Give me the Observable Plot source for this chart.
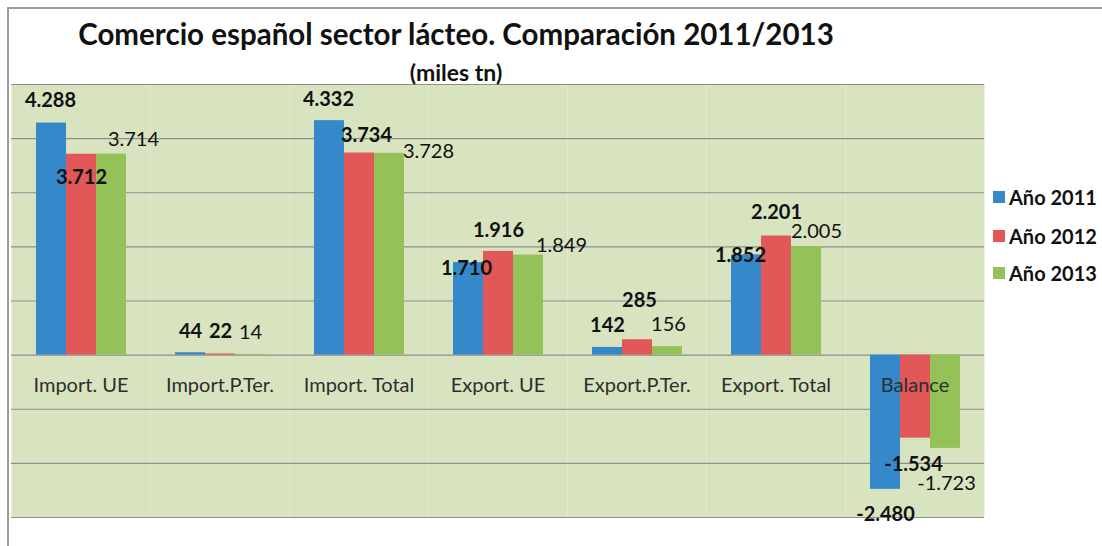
<!DOCTYPE html>
<html>
<head>
<meta charset="utf-8">
<script src="https://cdn.jsdelivr.net/npm/d3@7"></script>
<script src="https://cdn.jsdelivr.net/npm/@observablehq/plot@0.6"></script>
<style>
  html, body { margin: 0; padding: 0; background: #fff; }
  #wrap { position: relative; width: 1102px; height: 546px; overflow: hidden; font-family: Lato, "Open Sans", sans-serif; }
  #border { position: absolute; left: 7px; top: 7px; right: -4px; bottom: -4px; border-top: 2px solid #9c9c9c; border-left: 2px solid #9c9c9c; }
  #chart { position: absolute; left: 0; top: 0; }
  .title { position: absolute; left: 0; width: 912px; text-align: center; font-weight: bold; color: #111; white-space: nowrap; }
  #legend { position: absolute; left: 993px; top: 0; }
  .lg { position: absolute; left: 0; white-space: nowrap; font-weight: bold; font-size: 20px; color: #111; display: flex; align-items: center; }
  .sw { width: 12px; height: 12px; margin-right: 4px; }
</style>
</head>
<body>
<div id="wrap">
  <div id="chart"></div>
  <div id="border"></div>
  <div class="title" style="top:16px;font-size:29.5px;">Comercio español sector lácteo. Comparación 2011/2013</div>
  <div class="title" style="top:58px;font-size:23px;">(miles tn)</div>
  <div id="legend"></div>
</div>
<script>
// ---- data ----
const categories = ["Import. UE", "Import.P.Ter.", "Import. Total", "Export. UE", "Export.P.Ter.", "Export. Total", "Balance"];
const years = ["Año 2011", "Año 2012", "Año 2013"];
const values2011 = [4288, 44, 4332, 1710, 142, 1852, -2480];
const values2012 = [3712, 22, 3734, 1916, 285, 2201, -1534];
const values2013 = [3714, 14, 3728, 1849, 156, 2005, -1723];
const yTicks = [-3000, -2000, -1000, 0, 1000, 2000, 3000, 4000, 5000];

// ---- layout (label nudges [dx, dy] per series, per category) ----
const nudge2011 = [[-1, -22], [0, -21], [-1, -21], [-2, 6], [0, -22], [-6, 1], [0, 25]];
const nudge2012 = [[0, 23], [0, -22], [7, -17], [0, -21], [2, -39], [0, -23], [-2, 26]];
const nudge2013 = [[22, -15], [0, -22], [39, -2], [33, -9], [1, -22], [10, -15], [1, 35]];
const colors = ["#3588ca", "#e25757", "#94c158"];

const esLocale = d3.formatLocale({decimal: ",", thousands: ".", grouping: [3], currency: ["", " €"], minus: "-"});
const fmt = esLocale.format(",d");

const series = [values2011, values2012, values2013];
const nudges = [nudge2011, nudge2012, nudge2013];
const rows = [];
categories.forEach((c, i) => {
  years.forEach((y, j) => {
    rows.push({category: c, year: y, value: series[j][i], label: fmt(series[j][i]), nudge: nudges[j][i], bold: j < 2});
  });
});

const labelMarks = rows.map(r => Plot.text([r], {
  fx: "category", x: "year", y: "value", text: "label",
  dx: r.nudge[0], dy: r.nudge[1],
  fontSize: 20, fontWeight: r.bold ? "bold" : "normal", fill: "#111"
}));

const plot = Plot.plot({
  width: 1102,
  height: 546,
  marginTop: 84,
  marginBottom: 29,
  marginLeft: 10,
  marginRight: 118,
  style: {fontFamily: "Lato, 'Open Sans', sans-serif", background: "transparent"},
  fx: {domain: categories, padding: 0, axis: null},
  x: {domain: years, paddingInner: 0, paddingOuter: 0.77, axis: null},
  y: {domain: [-3000, 5000], axis: null},
  color: {domain: years, range: colors},
  marks: [
    Plot.frame({fill: "#d8e4bf", stroke: null}),
    Plot.ruleY(yTicks, {stroke: "#8e8e8e", strokeWidth: 1.2}),
    Plot.barY(rows, {fx: "category", x: "year", y: "value", fill: "year"}),
    Plot.text(categories, {fx: d => d, y: d => 0, text: d => d, dy: 30, fontSize: 20, fill: "#2e2e2e"}),
    ...labelMarks
  ]
});
document.getElementById("chart").appendChild(plot);

// legend
const legend = document.getElementById("legend");
const legendTops = [185, 224, 261];
years.forEach((y, j) => {
  const item = document.createElement("div");
  item.className = "lg";
  item.style.top = legendTops[j] + "px";
  const sw = document.createElement("span");
  sw.className = "sw";
  sw.style.background = colors[j];
  const t = document.createElement("span");
  t.textContent = y;
  item.appendChild(sw);
  item.appendChild(t);
  legend.appendChild(item);
});
</script>
</body>
</html>
